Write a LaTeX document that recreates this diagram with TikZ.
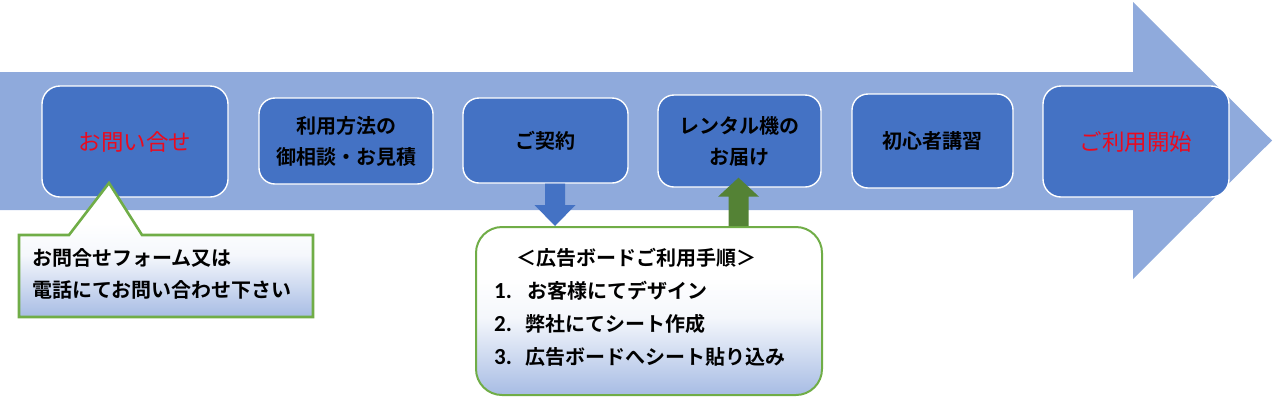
\documentclass[tikz,border=0pt]{standalone}
\usepackage{fontspec}
\newfontfamily\jp{Noto Sans CJK JP}[BoldFont={Noto Sans CJK JP Bold}]
\newfontfamily\lat{Carlito}
\usetikzlibrary{calc}
\definecolor{shaft}{HTML}{8FAADC}
\definecolor{boxblue}{HTML}{4472C4}
\definecolor{grn}{HTML}{70AD47}
\definecolor{dgrn}{HTML}{548235}
\definecolor{redtxt}{RGB}{235,10,30}
\definecolor{shblue}{HTML}{A7BCE4}
\pgfdeclareverticalshading{calshade}{100bp}{color(0bp)=(shblue); color(25bp)=(shblue); color(48bp)=(white!88!shblue); color(60bp)=(white); color(100bp)=(white)}
\tikzset{
  stepbox/.style={draw=white, line width=1.4pt, fill=boxblue, rounded corners=16pt, inner sep=0pt, align=center,
     font=\jp\bfseries\fontsize{20}{31}\selectfont, text=black},
  bigbox/.style={stepbox, rounded corners=18pt, font=\jp\fontsize{22.5}{30}\selectfont, text=redtxt},
  txt/.style={inner sep=0pt, anchor=west, font=\jp\bfseries\fontsize{20}{24}\selectfont},
  numtxt/.style={txt, font=\lat\bfseries\fontsize{23}{24}\selectfont},
  notebox/.style={draw=grn, line width=2pt, shading=calshade},
}
\begin{document}
\begin{tikzpicture}[x=1pt,y=-1pt]
\useasboundingbox (0,0) rectangle (1276,400);
% big arrow
\fill[shaft] (0,72) -- (1133,72) -- (1133,2) -- (1272,140.5) -- (1133,279) -- (1133,210) -- (0,210) -- cycle;
% step boxes
\node[bigbox, minimum width=186pt, minimum height=111pt] (b1) at (135,141.5) {お問い合せ};
\node[stepbox, minimum width=174pt, minimum height=86pt] (b2) at (346,141) {利用方法の\\御相談・お見積};
\node[stepbox, minimum width=165pt, minimum height=85pt] (b3) at (545.5,140.5) {ご契約};
\node[stepbox, minimum width=163pt, minimum height=92pt] (b4) at (739.5,141) {レンタル機の\\お届け};
\node[stepbox, minimum width=161pt, minimum height=94pt] (b5) at (932.5,141) {初心者講習};
\node[bigbox, minimum width=186pt, minimum height=111pt] (b6) at (1136,141.5) {ご利用開始};
% procedure box
\node[notebox, rounded corners=26pt, minimum width=346pt, minimum height=168pt, inner sep=0pt] (lst) at (649,311) {};
\node[txt] (h) at (516,258) {＜広告ボードご利用手順＞};
\node[numtxt] (n1) at (494,291) {1.};
\node[txt] (t1) at (527,291) {お客様にてデザイン};
\node[numtxt] (n2) at (494,324) {2.};
\node[txt] (t2) at (525,324) {弊社にてシート作成};
\node[numtxt] (n3) at (494,357) {3.};
\node[txt] (t3) at (525,357) {広告ボードへシート貼り込み};
% block arrows
\coordinate (dx) at (555,0);
\coordinate (ux) at (738.5,0);
\fill[boxblue] ($(dx |- b3.south)+(-10,0)$) -- ($(dx |- b3.south)+(10,0)$) -- ($(dx |- lst.north)+(10,-21)$)
   -- ($(dx |- lst.north)+(20.5,-21)$) -- (dx |- lst.north) -- ($(dx |- lst.north)+(-20.5,-21)$)
   -- ($(dx |- lst.north)+(-10,-21)$) -- cycle;
\fill[dgrn] ($(ux |- lst.north)+(-10,0)$) -- ($(ux |- lst.north)+(10,0)$) -- ($(ux |- b4.south)+(10,9)$)
   -- ($(ux |- b4.south)+(20.5,9)$) -- ($(ux |- b4.south)+(0,-10)$) -- ($(ux |- b4.south)+(-20.5,9)$)
   -- ($(ux |- b4.south)+(-10,9)$) -- cycle;
% callout
\coordinate (ctip) at (109,183);
\path[notebox, line width=2.6pt] (19,235) -- (69,235) -- (ctip) -- (142,235) -- (313,235) -- (313,317) -- (19,317) -- cycle;
\node[txt] (c1) at (32,258) {お問合せフォーム又は};
\node[txt] (c2) at (32,290) {電話にてお問い合わせ下さい};
\end{tikzpicture}
\end{document}
